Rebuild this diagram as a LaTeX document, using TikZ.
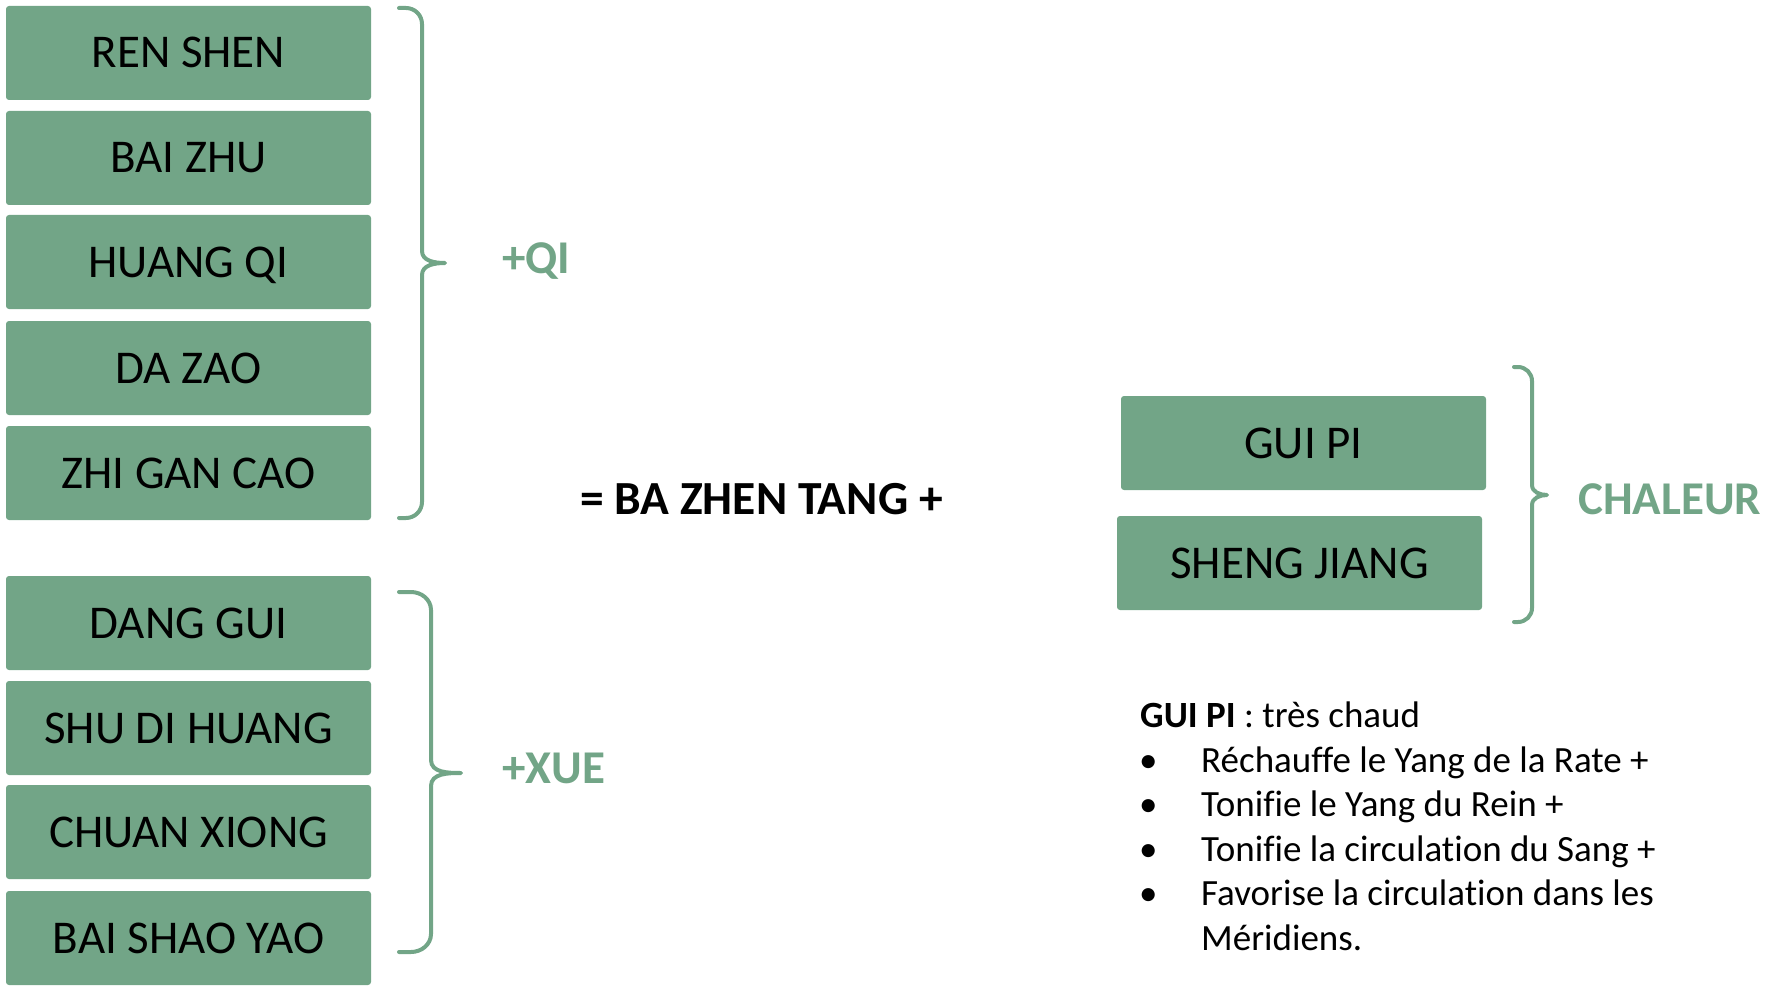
\documentclass[tikz,border=0pt]{standalone}
\usepackage{fontspec}
\setmainfont[Ligatures={NoCommon}]{Carlito}
\definecolor{herb}{RGB}{114,165,135}
\tikzset{
  herbbox/.style={fill=herb, rounded corners=3pt, minimum width=365pt, minimum height=94pt,
    inner sep=0pt, text height=30pt, text depth=0pt, font=\fontsize{47}{56}\selectfont},
  grouplabel/.style={text=herb, font=\fontsize{47}{56}\selectfont\bfseries, anchor=west,
    inner sep=0pt, text height=30pt, text depth=0pt},
  bracestyle/.style={draw=herb, line width=4pt, line cap=round, line join=round},
  notetext/.style={anchor=base west, inner sep=0pt, font=\fontsize{37}{45}\selectfont},
}
\begin{document}
\begin{tikzpicture}[x=1pt,y=1pt]
\useasboundingbox (0,0) rectangle (1777,-987);
% left column
\node[herbbox] (ren)   at (188.5,-53)  {REN SHEN};
\node[herbbox] (bai)   at (188.5,-158) {BAI ZHU};
\node[herbbox] (huang) at (188.5,-262) {HUANG QI};
\node[herbbox] (da)    at (188.5,-368) {DA ZAO};
\node[herbbox] (zhi)   at (188.5,-473) {ZHI GAN CAO};
\node[herbbox] (dang)  at (188.5,-623) {DANG GUI};
\node[herbbox] (shu)   at (188.5,-728) {SHU DI HUANG};
\node[herbbox] (chuan) at (188.5,-832) {CHUAN XIONG};
\node[herbbox] (baishao) at (188.5,-938) {BAI SHAO YAO};
% braces left
\draw[bracestyle] (399,-8) -- (406,-8) to[out=0,in=90] (422,-24) -- (422,-251)
  to[out=-90,in=180] (445,-263) to[out=180,in=90] (422,-275) -- (422,-502)
  to[out=-90,in=0] (406,-518) -- (399,-518);
\draw[bracestyle] (399,-592) -- (411,-592) to[out=0,in=90] (431,-610) -- (431,-760)
  to[out=-90,in=180] (461,-773) to[out=180,in=90] (431,-786) -- (431,-934)
  to[out=-90,in=0] (411,-952) -- (399,-952);
\node[grouplabel] (qi)  at (502,-258) {+QI};
\node[grouplabel] (xue) at (502,-768) {+XUE};
% centre
\node[anchor=west, inner sep=0pt, text height=30pt, text depth=0pt,
  font=\fontsize{47.5}{56}\selectfont\bfseries] (ba) at (580,-499) {= BA ZHEN TANG +};
% right boxes
\node[herbbox] (guipi) at (1303.5,-443) {GUI PI};
\node[herbbox] (sheng) at (1299.5,-563) {SHENG JIANG};
\draw[bracestyle] (1514,-367) -- (1518,-367) to[out=0,in=90] (1532,-381) -- (1532,-485)
  to[out=-90,in=180] (1547,-495) to[out=180,in=90] (1532,-505) -- (1532,-608)
  to[out=-90,in=0] (1518,-622) -- (1514,-622);
\node[grouplabel] (chaleur) at (1578,-499) {CHALEUR};
% notes
\node[notetext] (title) at (1140,-727) {\textbf{GUI PI} : très chaud};
\node[notetext] (b1) at (1139,-772) {•};
\node[notetext] (t1) at (1201,-772) {Réchauffe le Yang de la Rate +};
\node[notetext] (b2) at (1139,-816.5) {•};
\node[notetext] (t2) at (1201,-816.5) {Tonifie le Yang du Rein +};
\node[notetext] (b3) at (1139,-861) {•};
\node[notetext] (t3) at (1201,-861) {Tonifie la circulation du Sang +};
\node[notetext] (b4) at (1139,-905.5) {•};
\node[notetext] (t4) at (1201,-905.5) {Favorise la circulation dans les};
\node[notetext] (t5) at (1201,-950) {Méridiens.};
\end{tikzpicture}
\end{document}
